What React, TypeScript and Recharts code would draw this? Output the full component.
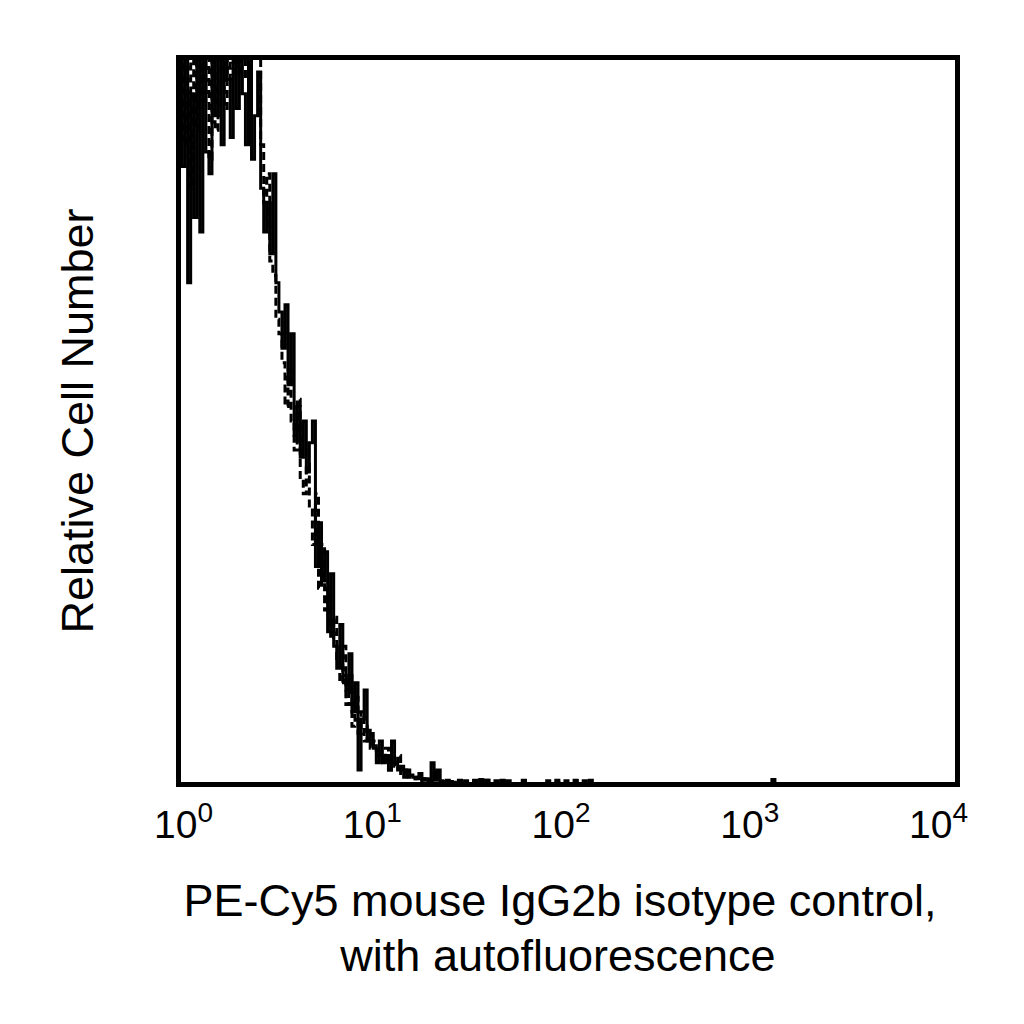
import React from 'react'
import { Label, Line, LineChart, ReferenceArea, XAxis, YAxis } from 'recharts'

// 256-channel log histogram (4 decades), counts scaled so the plot top = 100
const solidCounts = [
  100, 85, 100, 69, 95, 78, 100, 76, 100, 87,
  84, 100, 92, 100, 88, 100, 97, 89, 100, 93,
  100, 95, 88, 100, 86, 92, 98, 82, 76, 80,
  73, 84, 69, 65, 60, 66, 55, 62, 48, 52,
  45, 50, 43, 47, 50, 30, 36, 28, 32, 21,
  29, 19, 16, 22, 15, 13, 18, 10, 14, 2,
  9, 13, 6, 7, 5, 3, 6, 3, 4, 2,
  6, 3, 2, 2.5, 1, 2, 1.2, 1, 0.8, 1.5,
  0.6, 0.8, 0.4, 3, 0.6, 2, 0.4, 0.3, 0.6, 0.2,
  0.3,
]
const dashedCounts = [
  95, 100, 88, 100, 82, 100, 90, 100, 94, 100,
  86, 100, 90, 96, 100, 93, 100, 97, 100, 98,
  100, 100, 97, 100, 100, 100, 100, 88, 80, 84,
  72, 70, 64, 62, 58, 52, 57, 50, 46, 53,
  42, 40, 44, 38, 33, 40, 27, 33, 24, 27,
  20, 23, 17, 14, 19, 11, 15, 8, 12, 7,
  10, 6, 8, 5, 6, 4, 4.5, 3, 5, 2,
  3, 2.5, 4, 1.5, 2, 1, 1.3, 0.8, 1, 0.5,
  0.8, 0.5, 0.6, 0.4, 2, 0.5, 0.3, 0.5, 0.3, 0.4,
  0.2,
]
// sparse single events along the baseline
const tailChannels = [92, 94, 97, 99, 101, 104, 106, 108, 113, 121, 124, 127, 130, 133, 135, 195]
const tailSolid = [0.6, 0.5, 0.6, 0.7, 0.6, 0.5, 0.6, 0.5, 0.6, 0.5, 0.6, 0.5, 0.6, 0.5, 0.6, 0.7]
const tailDashed = [0.4, 0, 0.5, 0, 0.6, 0, 0.5, 0, 0.5, 0, 0.5, 0, 0.5, 0, 0.4, 0]

const decadeTicks = [0, 64, 128, 192, 256]
const decadeExponents = ['0', '1', '2', '3', '4']

const FONT = '"Liberation Sans", Arial, Helvetica, sans-serif'

const data = Array.from({ length: 257 }, (_, ch) => {
  const t = tailChannels.indexOf(ch)
  return {
    ch,
    solid: ch < solidCounts.length ? solidCounts[ch] : t >= 0 ? tailSolid[t] : 0,
    dashed: ch < dashedCounts.length ? dashedCounts[ch] : t >= 0 ? tailDashed[t] : 0,
  }
})

function DecadeTick(props: any) {
  const { x, payload } = props
  const i = decadeTicks.indexOf(payload.value)
  return (
    <text x={x + 5 - i * 6} y={838} textAnchor="middle" fontFamily={FONT} fontSize={39} fill="#000">
      <tspan>10</tspan>
      <tspan dy={-16} fontSize={28}>{decadeExponents[i]}</tspan>
    </text>
  )
}

// both axis titles, placed relative to the x-axis box
function AxisTitles({ viewBox }: any) {
  const cx = viewBox.x + viewBox.width / 2
  const ly = 93
  const lcy = 421
  return (
    <g fontFamily={FONT} fontSize={45} fill="#000">
      <text textAnchor="middle">
        <tspan x={cx - 8} y={916}>PE-Cy5 mouse IgG2b isotype control,</tspan>
        <tspan x={cx - 10} y={971}>with autofluorescence</tspan>
      </text>
      <text x={ly} y={lcy} transform={`rotate(-90, ${ly}, ${lcy})`} textAnchor="middle">
        Relative Cell Number
      </text>
    </g>
  )
}

export default function App() {
  return (
    <div style={{ position: 'absolute', left: 0, top: 0, width: 1024, height: 1024, background: '#fff' }}>
      <LineChart
        width={1024}
        height={1024}
        data={data}
        margin={{ top: 57.5, right: 66.5, bottom: 179.5, left: 178.5 }}
      >
        <XAxis
          type="number"
          dataKey="ch"
          domain={[0, 256]}
          ticks={decadeTicks}
          allowDataOverflow
          height={60}
          axisLine={false}
          tickLine={false}
          tick={<DecadeTick />}
          interval={0}
          label={<Label content={<AxisTitles />} />}
        />
        <YAxis domain={[0, 100]} allowDataOverflow hide />
        <Line
          type="stepAfter"
          dataKey="dashed"
          stroke="#000"
          strokeWidth={3}
          strokeDasharray="8 4"
          dot={false}
          isAnimationActive={false}
        />
        <Line
          type="stepAfter"
          dataKey="solid"
          stroke="#000"
          strokeWidth={3}
          dot={false}
          isAnimationActive={false}
        />
        <ReferenceArea
          x1={0}
          x2={256}
          y1={0}
          y2={100}
          fill="none"
          stroke="#000"
          strokeWidth={5}
          ifOverflow="visible"
        />
      </LineChart>
    </div>
  )
}
